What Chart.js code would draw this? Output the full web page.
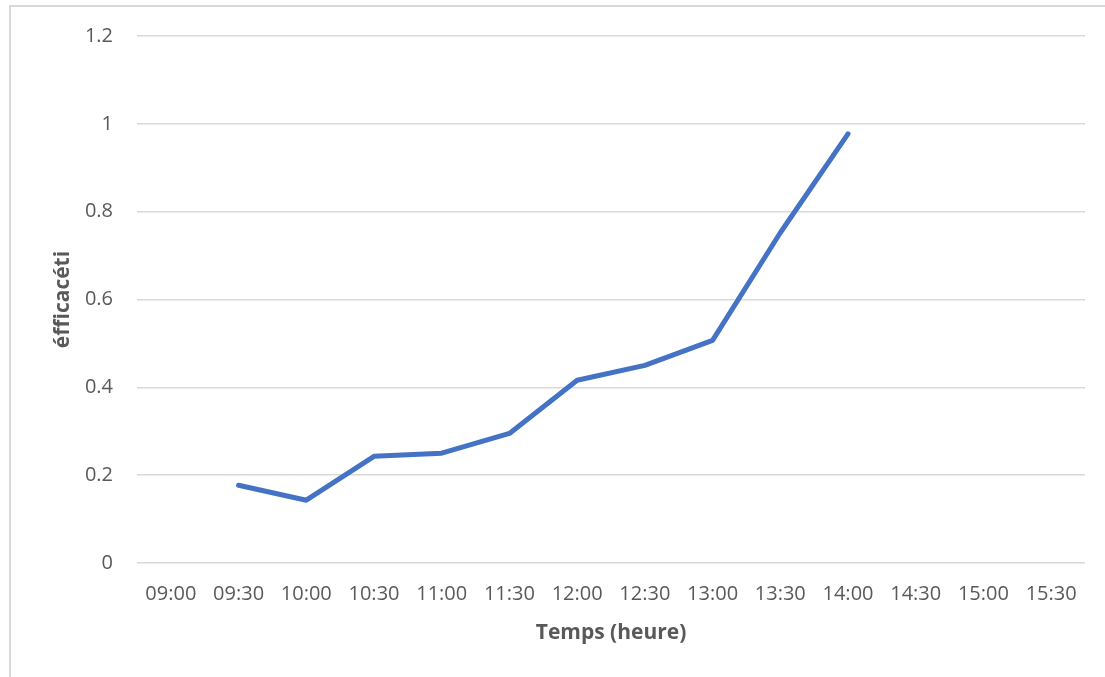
<!DOCTYPE html>
<html>
<head>
<meta charset="utf-8">
<script src="https://cdn.jsdelivr.net/npm/chart.js@4/dist/chart.umd.min.js"></script>
<style>
    html, body { margin: 0; padding: 0; background: #fff; overflow: hidden; }
    #frame {
        position: absolute; left: 9px; top: 5px;
        width: 1200px; height: 800px;
        border: 2px solid #d9d9d9;
    }
    #wrap { position: absolute; left: 0; top: 0; width: 1105px; height: 677px; }
</style>
</head>
<body>
<div id="frame"></div>
<div id="wrap"><canvas id="effChart"></canvas></div>
<script>
// data
const timeLabels = ['09:00', '09:30', '10:00', '10:30', '11:00', '11:30', '12:00',
                    '12:30', '13:00', '13:30', '14:00', '14:30', '15:00', '15:30'];
const efficiency = [null, 0.177, 0.143, 0.243, 0.25, 0.295, 0.416,
                    0.45, 0.507, 0.752, 0.977, null, null, null];
const yTicks = [0, 0.2, 0.4, 0.6, 0.8, 1, 1.2];

Chart.defaults.font.family = "'Open Sans', 'Liberation Sans', sans-serif";
Chart.defaults.color = '#595959';

function initializeChart() {
    const ctx = document.getElementById('effChart').getContext('2d');
    new Chart(ctx, {
        type: 'line',
        data: {
            labels: timeLabels,
            datasets: [{
                label: 'éfficacéti',
                data: efficiency,
                borderColor: '#4472C4',
                borderWidth: 5,
                borderCapStyle: 'round',
                borderJoinStyle: 'round',
                pointRadius: 0,
                tension: 0,
                spanGaps: false
            }]
        },
        options: {
            responsive: true,
            maintainAspectRatio: false,
            animation: false,
            layout: {
                padding: { left: 40, top: 35, right: 20, bottom: 0 }
            },
            plugins: {
                legend: { display: false },
                tooltip: { enabled: false }
            },
            scales: {
                x: {
                    offset: true,
                    grid: { display: false, drawTicks: false },
                    border: { display: false },
                    ticks: {
                        padding: 19,
                        maxRotation: 0,
                        autoSkip: false,
                        font: { size: 20 }
                    },
                    title: {
                        display: true,
                        text: 'Temps (heure)',
                        font: { size: 21, weight: 'bold' },
                        padding: { top: 0, bottom: 31 }
                    },
                    afterFit: function(axis) {
                        axis.height = 114;
                    }
                },
                y: {
                    min: 0,
                    max: 1.2,
                    afterBuildTicks: function(axis) {
                        axis.ticks = yTicks.map(v => ({ value: v }));
                    },
                    grid: { color: '#d9d9d9', lineWidth: 1.5, drawTicks: false },
                    border: { display: false },
                    ticks: {
                        padding: 24,
                        font: { size: 20 },
                        callback: function(value) {
                            return String(Number(value.toFixed(1)));
                        }
                    },
                    title: {
                        display: true,
                        text: 'éfficacéti',
                        font: { size: 21, weight: 'bold' },
                        padding: { top: 10, bottom: 0 }
                    },
                    afterFit: function(axis) {
                        axis.width = 97;
                    }
                }
            }
        }
    });
}

document.addEventListener('DOMContentLoaded', initializeChart);
</script>
</body>
</html>
